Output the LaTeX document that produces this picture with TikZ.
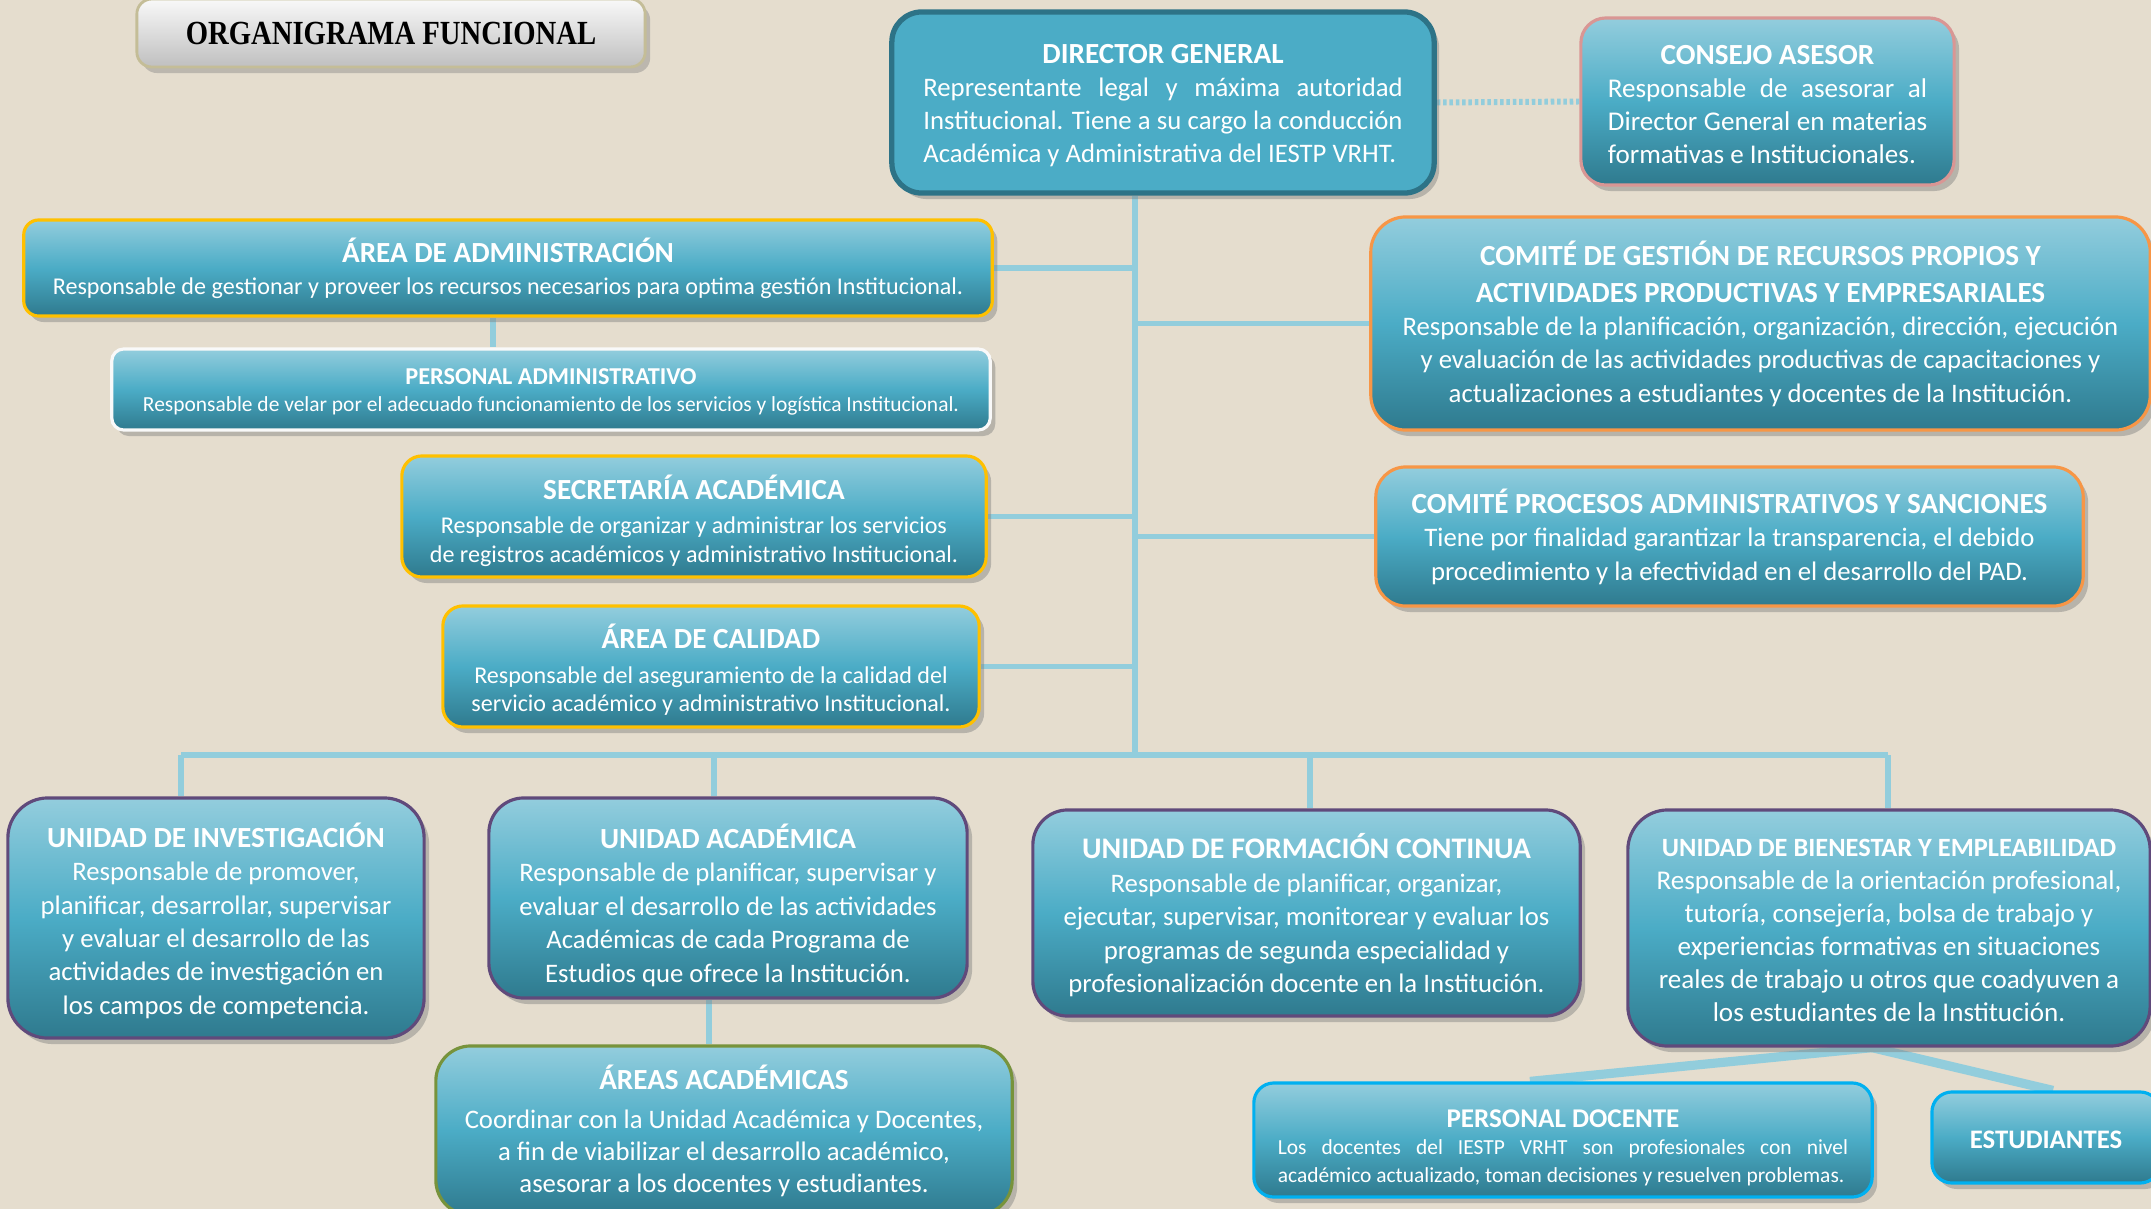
\documentclass[tikz,border=0pt]{standalone}
\usepackage{fontspec}
\setmainfont{Carlito}
\newfontfamily\serifttl{Liberation Serif}
\usetikzlibrary{shadows,backgrounds}
\definecolor{fondo}{RGB}{229,221,206}
\definecolor{cajaarr}{RGB}{147,205,221}
\definecolor{cajamed}{RGB}{75,172,198}
\definecolor{cajaab}{RGB}{47,122,142}
\definecolor{dirfill}{RGB}{75,172,198}
\definecolor{dirborde}{RGB}{45,115,135}
\definecolor{dorado}{RGB}{255,192,0}
\definecolor{naranja}{RGB}{247,150,70}
\definecolor{rosado}{RGB}{217,150,148}
\definecolor{morado}{RGB}{96,74,123}
\definecolor{oliva}{RGB}{119,147,60}
\definecolor{celeste}{RGB}{0,176,240}
\definecolor{enlacecol}{RGB}{146,205,220}
\definecolor{grisborde}{RGB}{196,189,151}
\newcommand{\ttl}[2][8.3]{{\bfseries\fontsize{#1}{#1}\selectfont\rule{0pt}{0.85em}#2}}
\newcommand{\bajar}[1]{\rule{0pt}{#1}}
\newcommand{\jl}[2]{\makebox[#1][s]{#2}}
\newcommand{\izq}[2]{\makebox[#1][l]{#2}}

\begin{document}
\begin{tikzpicture}[x=0.01cm,y=-0.01cm,
  caja/.style={rounded corners=0.3cm,line width=0.9pt,top color=cajaarr,bottom color=cajaab,middle color=cajamed,
    drop shadow={shadow xshift=0.05cm,shadow yshift=-0.06cm,opacity=0.45},inner sep=0pt,align=center,text=white,
    font=\fontsize{7.6}{9.5}\selectfont},
  enlace/.style={draw=enlacecol,line width=1.7pt}]
\clip (0,0) rectangle (2151,1209);
\useasboundingbox (0,0) rectangle (2151,1209);

\node[rounded corners=0.15cm,draw=grisborde,line width=0.8pt,top color=white!95!gray,bottom color=gray!50,
  drop shadow={shadow xshift=0.05cm,shadow yshift=-0.06cm,opacity=0.4},minimum width=5.08cm,minimum height=0.68cm,inner sep=0pt]
  (tit) at (391,33) {\scalebox{0.85}[1]{\serifttl\bfseries\fontsize{9.6}{9.6}\selectfont ORGANIGRAMA FUNCIONAL}};

\node[caja,draw=dirborde,line width=1.5pt,top color=dirfill,bottom color=dirfill,middle color=dirfill,minimum width=5.42cm,minimum height=1.81cm,font=\fontsize{7.6}{9.4}\selectfont] (dir) at (1163,102.5)
  {\ttl{DIRECTOR GENERAL}\\ \jl{4.79cm}{Representante legal y máxima autoridad}\\ \jl{4.79cm}{Institucional. Tiene a su cargo la conducción}\\ \izq{4.79cm}{Académica y Administrativa del IESTP VRHT.}};
\node[caja,draw=rosado,rounded corners=0.25cm,minimum width=3.73cm,minimum height=1.67cm,font=\fontsize{7.7}{9.4}\selectfont] (cas) at (1767.5,101.5)
  {\ttl{CONSEJO ASESOR}\\ \jl{3.19cm}{Responsable de asesorar al}\\ \jl{3.19cm}{Director General en materias}\\ \izq{3.19cm}{formativas e Institucionales.}};

\node[caja,draw=dorado,rounded corners=0.15cm,minimum width=9.68cm,minimum height=0.96cm,font=\fontsize{6.85}{9.2}\selectfont] (adm) at (508,268)
  {\ttl{ÁREA DE ADMINISTRACIÓN}\\ Responsable de gestionar y proveer los recursos necesarios para optima gestión Institucional.};
\node[caja,draw=white!95!gray,rounded corners=0.12cm,minimum width=8.78cm,minimum height=0.81cm,font=\fontsize{6.1}{7.7}\selectfont] (pad) at (551,389.5)
  {\ttl[6.9]{PERSONAL ADMINISTRATIVO}\\ Responsable de velar por el adecuado funcionamiento de los servicios y logística Institucional.};
\node[caja,draw=dorado,rounded corners=0.2cm,minimum width=5.84cm,minimum height=1.21cm,font=\fontsize{6.85}{8.2}\selectfont] (sec) at (694,516.5)
  {\bajar{9.5pt}\ttl{SECRETARÍA ACADÉMICA}\\[1.5pt] Responsable de organizar y administrar los servicios\\ de registros académicos y administrativo Institucional.};
\node[caja,draw=dorado,rounded corners=0.2cm,minimum width=5.36cm,minimum height=1.21cm,font=\fontsize{6.85}{8.2}\selectfont] (cal) at (711,666.5)
  {\bajar{9pt}\ttl{ÁREA DE CALIDAD}\\[1.5pt] Responsable del aseguramiento de la calidad del\\ servicio académico y administrativo Institucional.};

\node[caja,draw=naranja,rounded corners=0.35cm,minimum width=7.79cm,minimum height=2.13cm] (cgr) at (1760.5,323.5)
  {\ttl{COMITÉ DE GESTIÓN DE RECURSOS PROPIOS Y}\\[1pt] \ttl{ACTIVIDADES PRODUCTIVAS Y EMPRESARIALES}\\ Responsable de la planificación, organización, dirección, ejecución\\ y evaluación de las actividades productivas de capacitaciones y\\ actualizaciones a estudiantes y docentes de la Institución.};
\node[caja,draw=naranja,minimum width=7.07cm,minimum height=1.39cm] (cpa) at (1729.5,536.5)
  {\ttl{COMITÉ PROCESOS ADMINISTRATIVOS Y SANCIONES}\\ Tiene por finalidad garantizar la transparencia, el debido\\ procedimiento y la efectividad en el desarrollo del PAD.};

\node[caja,draw=morado,rounded corners=0.4cm,minimum width=4.16cm,minimum height=2.40cm] (uin) at (216,918)
  {\bajar{8.5pt}\ttl{UNIDAD DE INVESTIGACIÓN}\\ Responsable de promover,\\ planificar, desarrollar, supervisar\\ y evaluar el desarrollo de las\\ actividades de investigación en\\ los campos de competencia.};
\node[caja,draw=morado,rounded corners=0.35cm,minimum width=4.78cm,minimum height=2.00cm] (uac) at (728,898)
  {\bajar{11pt}\ttl{UNIDAD ACADÉMICA}\\ Responsable de planificar, supervisar y\\ evaluar el desarrollo de las actividades\\ Académicas de cada Programa de\\ Estudios que ofrece la Institución.};
\node[caja,draw=morado,rounded corners=0.35cm,minimum width=5.47cm,minimum height=2.06cm] (ufc) at (1306.5,913)
  {\bajar{8.5pt}\ttl[8.5]{UNIDAD DE FORMACIÓN CONTINUA}\\ Responsable de planificar, organizar,\\ ejecutar, supervisar, monitorear y evaluar los\\ programas de segunda especialidad y\\ profesionalización docente en la Institución.};
\node[caja,draw=morado,rounded corners=0.4cm,minimum width=5.22cm,minimum height=2.36cm,font=\fontsize{7.7}{9.4}\selectfont] (ube) at (1889,928)
  {\ttl[7.5]{UNIDAD DE BIENESTAR Y EMPLEABILIDAD}\\ Responsable de la orientación profesional,\\ tutoría, consejería, bolsa de trabajo y\\ experiencias formativas en situaciones\\ reales de trabajo u otros que coadyuven a\\ los estudiantes de la Institución.};

\node[caja,draw=oliva,rounded corners=0.35cm,minimum width=5.76cm,minimum height=1.69cm,font=\fontsize{7.6}{9.1}\selectfont] (aac) at (724,1130.5)
  {\ttl{ÁREAS ACADÉMICAS}\\[2pt] Coordinar con la Unidad Académica y Docentes,\\ a fin de viabilizar el desarrollo académico,\\ asesorar a los docentes y estudiantes.};
\node[caja,draw=celeste,rounded corners=0.2cm,minimum width=6.18cm,minimum height=1.14cm,font=\fontsize{6.1}{7.7}\selectfont] (pdo) at (1563,1140)
  {\bajar{9.5pt}\ttl[7.7]{PERSONAL DOCENTE}\\ \jl{5.70cm}{Los docentes del IESTP VRHT son profesionales con nivel}\\ \izq{5.70cm}{académico actualizado, toman decisiones y resuelven problemas.}};
\node[caja,draw=celeste,rounded corners=0.2cm,minimum width=2.28cm,minimum height=0.91cm] (est) at (2046,1137.5)
  {\ttl[7.6]{ESTUDIANTES}};

\begin{pgfonlayer}{background}
\fill[fondo] (0,0) rectangle (2151,1209);
\coordinate (tk) at (1135,755);
\coordinate (d1) at (181,755);
\coordinate (d2) at (714,755);
\coordinate (d3) at (1310,755);
\coordinate (d4) at (1888,755);
\draw[enlace] (dir.south -| tk) -- (tk);
\draw[enlace] (d1) -- (d4);
\draw[enlace] (d1) -- (d1 |- uin.north);
\draw[enlace] (d2) -- (d2 |- uac.north);
\draw[enlace] (d3) -- (d3 |- ufc.north);
\draw[enlace] (d4) -- (d4 |- ube.north);
\draw[enlace] (adm.east) -- (adm.east -| tk);
\draw[enlace] (sec.east) -- (sec.east -| tk);
\draw[enlace] (cal.east) -- (cal.east -| tk);
\draw[enlace] (cgr.west) -- (cgr.west -| tk);
\draw[enlace] (cpa.west) -- (cpa.west -| tk);
\draw[enlace,dash pattern=on 1pt off 0.8pt] (dir.east) -- (cas.west);
\coordinate (pa) at ([xshift=-0.15cm]adm.south);
\draw[enlace] (pa) -- (pa |- pad.north);
\coordinate (ua) at ([xshift=-0.19cm]uac.south);
\draw[enlace] (ua) -- (ua |- aac.north);
\coordinate (bz) at ([xshift=-0.17cm]ube.south);
\draw[enlace,line width=2.6pt] (bz) -- ([xshift=-0.33cm]pdo.north);
\draw[enlace,line width=2.6pt] (bz) -- ([xshift=0.07cm]est.north);
\end{pgfonlayer}
\end{tikzpicture}
\end{document}
